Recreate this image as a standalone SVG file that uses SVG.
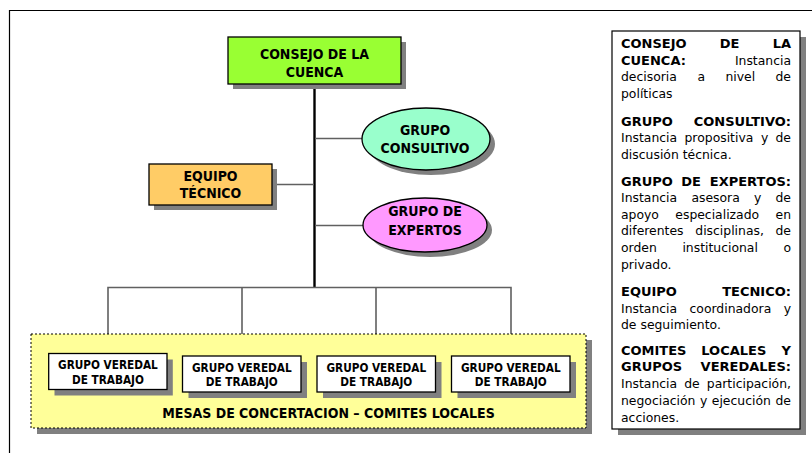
<svg xmlns="http://www.w3.org/2000/svg" width="812" height="453" viewBox="0 0 812 453">
<style>
.nt{font-family:"DejaVu Sans Condensed","DejaVu Sans",sans-serif;font-stretch:condensed;font-weight:bold;font-size:14px;fill:#000;text-anchor:middle}
.vt{font-family:"DejaVu Sans Condensed","DejaVu Sans",sans-serif;font-stretch:condensed;font-weight:bold;font-size:11.7px;fill:#000;text-anchor:middle}
.lg{font-family:"DejaVu Sans",sans-serif;font-size:12.4px;fill:#000}
.lb{font-family:"DejaVu Sans",sans-serif;font-size:13px;font-weight:bold;fill:#000}
.e{text-anchor:end}
.sh{fill:#808080;stroke:none}
.bx{stroke:#000;stroke-width:1.3}
.gl{stroke:#606060;stroke-width:1.6;fill:none}
</style>
<rect width="812" height="453" fill="#fff"/>
<path d="M9.5 453 V10.5 H812" fill="none" stroke="#000" stroke-width="1.2"/>
<g id="connectors">
<line x1="314.5" y1="84" x2="314.5" y2="288" stroke="#000" stroke-width="2.4"/>
<line class="gl" x1="272" y1="184.5" x2="314" y2="184.5"/>
<line class="gl" x1="315" y1="138.5" x2="362" y2="138.5"/>
<line class="gl" x1="315" y1="225.5" x2="364" y2="225.5"/>
<path class="gl" d="M108 353.5 V287.5 H511 V356 M242 287.5 V356 M376 287.5 V356"/>
</g>
<g id="consejo">
<rect class="sh" x="233" y="42" width="173" height="47"/>
<rect class="bx" x="228" y="37" width="173" height="47" fill="#99FF33"/>
<text class="nt" x="314.5" y="58.5">CONSEJO DE LA</text>
<text class="nt" x="314.5" y="76.5">CUENCA</text>
</g>
<g id="equipo">
<rect class="sh" x="154" y="169" width="123" height="41"/>
<rect class="bx" x="149" y="164" width="123" height="41" fill="#FFCC66"/>
<text class="nt" x="210.5" y="181">EQUIPO</text>
<text class="nt" x="210.5" y="198">TÉCNICO</text>
</g>
<g id="consultivo">
<ellipse class="sh" cx="431" cy="144" rx="64" ry="31"/>
<ellipse class="bx" cx="426" cy="139" rx="64" ry="31" fill="#99FFCC"/>
<text class="nt" x="425" y="135">GRUPO</text>
<text class="nt" x="425" y="153">CONSULTIVO</text>
</g>
<g id="expertos">
<ellipse class="sh" cx="430" cy="230" rx="62" ry="27"/>
<ellipse class="bx" cx="425" cy="225" rx="62" ry="27" fill="#FF99FF"/>
<text class="nt" x="425" y="216">GRUPO DE</text>
<text class="nt" x="425" y="235">EXPERTOS</text>
</g>
<g id="mesas">
<rect class="sh" x="37" y="340" width="555" height="94"/>
<rect x="31" y="334" width="555" height="94" fill="#FFFF99" stroke="#000" stroke-width="1" stroke-dasharray="2 2"/>
<text class="nt" x="328.5" y="417.5">MESAS DE CONCERTACION – COMITES LOCALES</text>
</g>
<g id="veredal1">
<rect class="sh" x="54.5" y="359.5" width="118.3" height="36"/>
<rect class="bx" x="48.7" y="353.5" width="118.3" height="36" fill="#fff"/>
<text class="vt" x="107.9" y="369.3">GRUPO VEREDAL</text>
<text class="vt" x="107.9" y="383.7">DE TRABAJO</text>
</g>
<g id="veredal2">
<rect class="sh" x="188.5" y="362" width="118.5" height="36"/>
<rect class="bx" x="182.5" y="356" width="118.5" height="36" fill="#fff"/>
<text class="vt" x="241.8" y="372">GRUPO VEREDAL</text>
<text class="vt" x="241.8" y="386.3">DE TRABAJO</text>
</g>
<g id="veredal3">
<rect class="sh" x="323" y="362" width="118.5" height="36"/>
<rect class="bx" x="317" y="356" width="118.5" height="36" fill="#fff"/>
<text class="vt" x="376.3" y="372">GRUPO VEREDAL</text>
<text class="vt" x="376.3" y="386.3">DE TRABAJO</text>
</g>
<g id="veredal4">
<rect class="sh" x="457.5" y="362" width="118.5" height="36"/>
<rect class="bx" x="451.5" y="356" width="118.5" height="36" fill="#fff"/>
<text class="vt" x="510.8" y="372">GRUPO VEREDAL</text>
<text class="vt" x="510.8" y="386.3">DE TRABAJO</text>
</g>
<g id="legend">
<rect class="sh" x="618" y="37" width="188" height="398"/>
<rect x="612" y="31" width="188" height="398" fill="#fff" stroke="#000" stroke-width="1.2"/>
<text class="lb" x="621" y="48">CONSEJO</text><text class="lb" x="719.8" y="48">DE</text><text class="lb e" x="791" y="48">LA</text>
<text class="lb" x="621" y="64.5">CUENCA:</text><text class="lg e" x="791" y="64.5">Instancia</text>
<text class="lg" x="621" y="81">decisoria</text><text class="lg" x="697.4" y="81">a</text><text class="lg" x="725.4" y="81">nivel</text><text class="lg e" x="791" y="81">de</text>
<text class="lg" x="621" y="97.5">políticas</text>
<text class="lb" x="621" y="125.5">GRUPO</text><text class="lb e" x="791" y="125.5">CONSULTIVO:</text>
<text class="lg" x="621" y="142">Instancia</text><text class="lg" x="684.5" y="142">propositiva</text><text class="lg" x="761" y="142">y</text><text class="lg e" x="791" y="142">de</text>
<text class="lg" x="621" y="159">discusión técnica.</text>
<text class="lb" x="621" y="185.5">GRUPO</text><text class="lb" x="681.2" y="185.5">DE</text><text class="lb e" x="791" y="185.5">EXPERTOS:</text>
<text class="lg" x="621" y="202">Instancia</text><text class="lg" x="691.4" y="202">asesora</text><text class="lg" x="754" y="202">y</text><text class="lg e" x="791" y="202">de</text>
<text class="lg" x="621" y="218.5">apoyo</text><text class="lg" x="675.3" y="218.5">especializado</text><text class="lg e" x="791" y="218.5">en</text>
<text class="lg" x="621" y="235">diferentes</text><text class="lg" x="695.3" y="235">disciplinas,</text><text class="lg e" x="791" y="235">de</text>
<text class="lg" x="621" y="252">orden</text><text class="lg" x="682.4" y="252">institucional</text><text class="lg e" x="791" y="252">o</text>
<text class="lg" x="621" y="269">privado.</text>
<text class="lb" x="621" y="296">EQUIPO</text><text class="lb e" x="791" y="296">TECNICO:</text>
<text class="lg" x="621" y="312.5">Instancia</text><text class="lg" x="689.5" y="312.5">coordinadora</text><text class="lg e" x="791" y="312.5">y</text>
<text class="lg" x="621" y="329">de seguimiento.</text>
<text class="lb" x="621" y="354.5">COMITES</text><text class="lb" x="701.3" y="354.5">LOCALES</text><text class="lb e" x="791" y="354.5">Y</text>
<text class="lb" x="621" y="371">GRUPOS</text><text class="lb e" x="791" y="371">VEREDALES:</text>
<text class="lg" x="621" y="388">Instancia</text><text class="lg" x="684.2" y="388">de</text><text class="lg e" x="791" y="388">participación,</text>
<text class="lg" x="621" y="405">negociación</text><text class="lg" x="700" y="405">y</text><text class="lg" x="711.8" y="405">ejecución</text><text class="lg e" x="791" y="405">de</text>
<text class="lg" x="621" y="422">acciones.</text>
</g>
</svg>
